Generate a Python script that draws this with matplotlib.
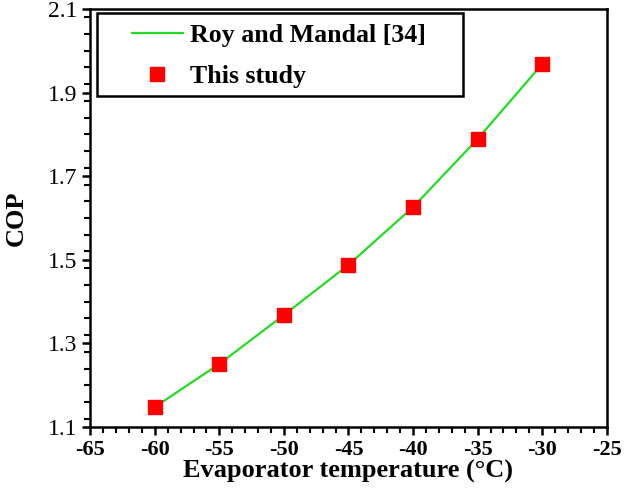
import numpy as np
import matplotlib
matplotlib.use("Agg")
import matplotlib.pyplot as plt
from matplotlib.ticker import MultipleLocator
from matplotlib.patches import Rectangle

# data
evap_temp = [-60, -55, -50, -45, -40, -35, -30]
cop_roy = [1.148, 1.251, 1.368, 1.488, 1.626, 1.789, 1.968]
cop_study = [1.148, 1.251, 1.368, 1.488, 1.626, 1.789, 1.968]

plt.rcParams['font.family'] = ['Liberation Serif', 'DejaVu Serif']
plt.rcParams['axes.unicode_minus'] = False

fig = plt.figure(figsize=(6.4, 4.96), dpi=100)
ax = fig.add_axes([0.141, 0.139, 0.807, 0.843])

ax.plot(evap_temp, cop_roy, color='#22dd22', lw=1.6, label="Roy and Mandal [34]")
ax.plot(evap_temp, cop_study, ls='none', marker='s', ms=9.5, color='#ff0000',
        mec='#ff0000', label="This study")

ax.set_xlim(-65, -25)
ax.set_ylim(1.1, 2.1)
ax.xaxis.set_major_locator(MultipleLocator(5))
ax.xaxis.set_minor_locator(MultipleLocator(1))
ax.yaxis.set_minor_locator(MultipleLocator(0.04))
yt = np.arange(1.1, 2.11, 0.2)
ax.set_yticks(yt)
ax.set_yticklabels([f"{v:.1f}" for v in yt])

for s in ax.spines.values():
    s.set_linewidth(1.8)
ax.tick_params(which='major', direction='out', length=6, width=1.8, labelsize=17)
ax.tick_params(axis='x', labelsize=16)
ax.tick_params(which='minor', direction='out', length=4, width=1.5)
for t in ax.get_xticklabels():
    t.set_fontweight('bold')

ax.set_xlabel("Evaporator temperature (°C)", fontsize=19, fontweight='bold', labelpad=0)
ax.set_ylabel("COP", fontsize=19, fontweight='bold', labelpad=14)

# legend box drawn separately (wide side padding in the original)
ax.add_patch(Rectangle((0.0135, 0.792), 0.7075, 0.198, transform=ax.transAxes,
                       fill=True, facecolor='white', edgecolor='black', lw=1.8, zorder=4))
leg = ax.legend(loc='upper left', bbox_to_anchor=(0.055, 0.995), frameon=False,
                prop={'weight': 'bold', 'size': 18.6}, handlelength=2.0,
                borderpad=0, labelspacing=0.68, handletextpad=0.25)
leg.set_zorder(5)

fig.savefig("out.png", dpi=100)
